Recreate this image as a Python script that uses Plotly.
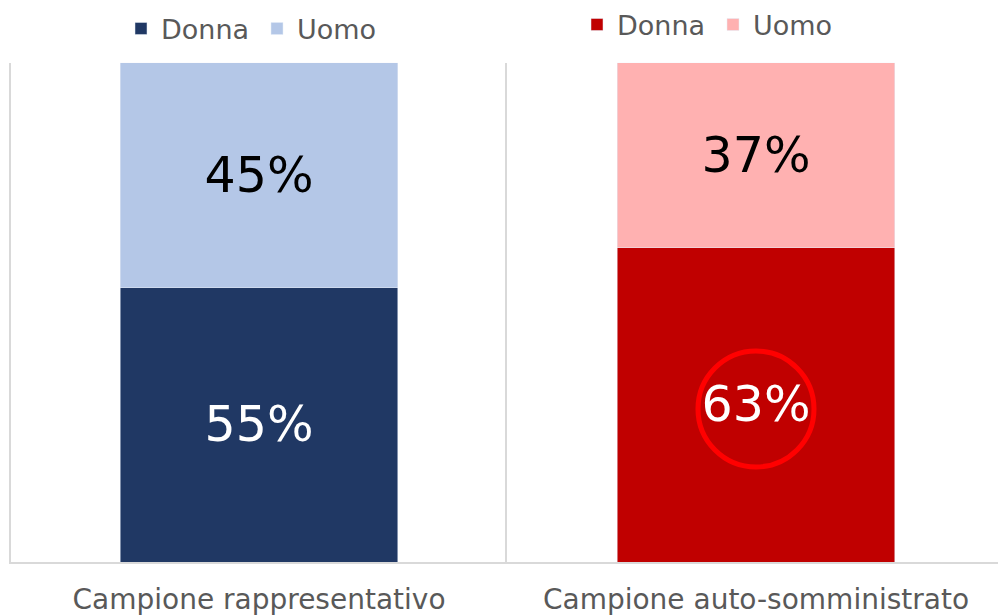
import plotly.graph_objects as go
from plotly.subplots import make_subplots

# Dati
campioni = ["Campione rappresentativo", "Campione auto-somministrato"]
genere = ["Donna", "Uomo"]
rappresentativo = [0.55, 0.45]
auto_somministrato = [0.63, 0.37]

colori_sx = ["#203864", "#B4C7E7"]
colori_dx = ["#C00000", "#FFB1B1"]
testo_col = ["white", "black"]

W, H = 998, 615
FONT = "DejaVu Sans"
MT = 10                 # margine sopra, evita che la legenda sposti l'area del grafico
PH = H - MT


def py(px):
    # pixel dall'alto -> frazione "paper"
    return 1 - (px - MT) / PH


fig = make_subplots(rows=1, cols=2, horizontal_spacing=0)

for i, nome in enumerate(genere):
    fig.add_trace(go.Bar(
        x=[campioni[0]], y=[rappresentativo[i]], name=nome,
        marker_color=colori_sx[i], width=0.56,
        text=[f"{rappresentativo[i]:.0%}"], textposition="inside",
        insidetextanchor="middle", constraintext="none", textangle=0,
        textfont=dict(size=49, color=testo_col[i], family=FONT),
        legend="legend",
    ), row=1, col=1)
    fig.add_trace(go.Bar(
        x=[campioni[1]], y=[auto_somministrato[i]], name=nome,
        marker_color=colori_dx[i], width=0.558,
        text=[f"{auto_somministrato[i]:.0%}"], textposition="inside",
        insidetextanchor="middle", constraintext="none", textangle=0,
        textfont=dict(size=49, color=testo_col[i], family=FONT),
        legend="legend2",
    ), row=1, col=2)

y_dom = [py(562), py(60)]
fig.update_layout(
    width=W, height=H, barmode="stack",
    margin=dict(l=0, r=0, t=MT, b=0),
    paper_bgcolor="white", plot_bgcolor="white",
    font=dict(family=FONT, color="#595959"),
    xaxis=dict(domain=[11 / W, 507 / W], range=[-0.5, 0.5]),
    xaxis2=dict(domain=[507 / W, 1.0], range=[-0.5, 0.486]),
    yaxis=dict(domain=y_dom, range=[0, 1]),
    yaxis2=dict(domain=y_dom, range=[0, 1]),
    legend=dict(orientation="h", x=121 / W, y=py(26), xanchor="left", yanchor="middle",
                font=dict(size=27, color="#595959", family=FONT), bgcolor="rgba(0,0,0,0)",
                entrywidth=91, entrywidthmode="pixels",
                itemclick=False, traceorder="normal"),
    legend2=dict(orientation="h", x=577 / W, y=py(22), xanchor="left", yanchor="middle",
                 font=dict(size=27, color="#595959", family=FONT), bgcolor="rgba(0,0,0,0)",
                 entrywidth=91, entrywidthmode="pixels",
                 itemclick=False, traceorder="normal"),
    showlegend=True,
)
fig.update_xaxes(showgrid=False, showline=True, linecolor="#D9D9D9", linewidth=2,
                 ticks="", tickfont=dict(size=28, color="#595959", family=FONT),
                 ticklabelstandoff=11, automargin=False, fixedrange=True)
fig.update_yaxes(showgrid=False, showline=True, linecolor="#D9D9D9", linewidth=2,
                 showticklabels=False, ticks="", automargin=False, fixedrange=True)

# cerchio rosso attorno al 63%
fig.add_shape(type="circle", xref="x2", yref="y2",
              xsizemode="pixel", ysizemode="pixel",
              xanchor=0, yanchor=auto_somministrato[0] / 2,
              x0=-58, x1=58, y0=-62, y1=54,
              line=dict(color="#FF0000", width=5))

fig.write_html("out.html", config={"displayModeBar": False},
               post_script="document.body.style.margin='0';")
